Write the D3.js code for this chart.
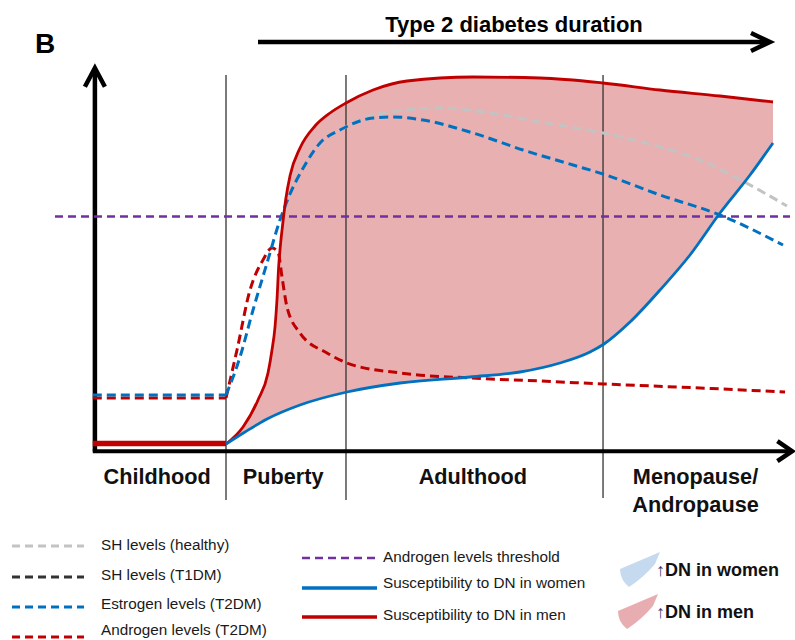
<!DOCTYPE html>
<html lang="en">
<head>
<meta charset="UTF-8">
<title>Type 2 diabetes duration</title>
<script src="https://d3js.org/d3.v7.min.js"></script>
<style>
  body { margin: 0; background: #fff; }
  svg { display: block; font-family: "Liberation Sans", Arial, sans-serif; }
  .stage { font-size: 21.7px; font-weight: bold; fill: #111; }
  .leg { font-size: 15.3px; fill: #1a1a1a; }
  .dn { font-size: 18px; font-weight: bold; fill: #111; }
</style>
</head>
<body>
<div id="chart"></div>
<script>
// life stages along the x axis (x in arbitrary time units 0-100)
const stages = ["Childhood", "Puberty", "Adulthood", "Menopause/|Andropause"];
const stageBounds = [18.43, 35.57, 72.29];
const stageLabelX = [8.6, 26.6, 53.7, 85.5];
const thresholdLevel = 57.4;

// levels, [x, level]
const menCurve = [[18.43,0.5],[20.86,4.75],[23,11.5],[24.43,18.25],[25,24],[25.43,29.75],[25.71,36.5],
  [25.95,44.75],[26.18,49.75],[26.5,55],[26.95,61.5],[27.6,67.75],[29,74.5],[31.14,80],[33.29,83.25],
  [35.57,85.75],[39.43,89],[44.29,91.25],[53.71,92.25],[63.29,92],[72.29,90.75],[80.43,89],[89,87.5],[96.57,86]];
const womenCurve = [[18.43,0.5],[21.14,3.5],[24.29,6.75],[29,10.25],[35.71,13.5],[43.29,15.75],[53.29,17.25],
  [60.43,18.5],[66.14,20.75],[70.43,23.5],[72.43,25.5],[76.14,31],[80.43,39],[84.71,47.75],[89,58.25],
  [93.29,67.75],[96.57,75.75]];
const childhoodMen = [[-0.6,0.6],[18.43,0.6]];
const estrogenChild = [[-0.6,12.75],[18.43,12.75]];
const estrogenCurve = [[18.43,12.75],[20.43,22.25],[22.29,34],[24.29,45.75],[26.14,56.5],[27.57,63],[29.71,70.25],
  [31.86,75.75],[34.71,79],[39.43,82],[42.29,82.25],[46.57,81.5],[53.71,78.25],[60.86,74],[68,70.25],
  [72.29,68],[80.43,62.75],[89,57.75],[98,50.25]];
const androgenChild = [[-0.6,12],[18.43,12]];
const androgenCurve = [[18.43,12],[20,24],[21.86,39],[23.71,46.5],[25,49.5],[25.86,48.5],[26.43,42.25],
  [27.14,34.75],[29,28.25],[32.86,23.25],[35.71,20.75],[43.29,18.25],[53.29,17],[63.29,16.25],[72.43,15.5],
  [86.14,14.5],[98.29,13.5]];
const healthyCurve = [[34.71,79],[39.43,82.75],[41.86,83.5],[49,84.5],[56.14,83.25],[63.29,81],[72.29,78.25],
  [80.43,74.75],[86.14,71.5],[91.43,67],[98.57,60]];

const legendLeft = [
  { label: "SH levels (healthy)", color: "#c3c3c3", dash: "8,5" },
  { label: "SH levels (T1DM)", color: "#333333", dash: "8,5" },
  { label: "Estrogen levels (T2DM)", color: "#0070c0", dash: "8,5" },
  { label: "Androgen levels (T2DM)", color: "#c00000", dash: "8,5" }
];
const legendMid = [
  { label: "Androgen levels threshold", color: "#7030a0", dash: "8,5" },
  { label: "Susceptibility to DN in women", color: "#0070c0", dash: null },
  { label: "Susceptibility to DN in men", color: "#c00000", dash: null }
];
const legendArea = [
  { label: "DN in women", color: "#c6daef" },
  { label: "DN in men", color: "#e8adb0" }
];

const width = 795, height = 640;
const svg = d3.select("#chart").append("svg")
    .attr("width", width)
    .attr("height", height);

const x = d3.scaleLinear().domain([0, 100]).range([97, 797]);
const y = d3.scaleLinear().domain([0, 100]).range([446, 46]);

const smooth = d3.line().x(d => x(d[0])).y(d => y(d[1])).curve(d3.curveMonotoneX);
const straight = d3.line().x(d => x(d[0])).y(d => y(d[1]));

// shaded region between men and women susceptibility
const upper = smooth(menCurve);
const lower = smooth(womenCurve.slice().reverse()).replace(/^M/, "L");
svg.append("path")
    .attr("d", upper + lower + "Z")
    .attr("fill", "#e9b0b1");

// stage separators
svg.selectAll(".sep")
    .data(stageBounds)
    .enter()
    .append("line")
    .attr("class", "sep")
    .attr("x1", d => x(d)).attr("x2", d => x(d))
    .attr("y1", y(92.75))
    .attr("y2", (d, i) => y(i == 2 ? -13 : -13.5))
    .attr("stroke", "#333")
    .attr("stroke-width", 1.3);

// axes
svg.append("line")
    .attr("x1", x(-0.3)).attr("x2", x(-0.3))
    .attr("y1", y(-1.4)).attr("y2", y(93.5))
    .attr("stroke", "#000").attr("stroke-width", 4.5);
svg.append("path")
    .attr("d", `M${x(-0.3) - 10},${y(89.8)} L${x(-0.3)},${y(94.5)} L${x(-0.3) + 10},${y(89.8)}`)
    .attr("fill", "none").attr("stroke", "#000").attr("stroke-width", 4.5);
svg.append("line")
    .attr("x1", x(-0.6)).attr("x2", x(99))
    .attr("y1", y(-1.3)).attr("y2", y(-1.3))
    .attr("stroke", "#000").attr("stroke-width", 4);
svg.append("path")
    .attr("d", `M${x(97.2)},${y(1.2)} L${x(99.3)},${y(-1.3)} L${x(97.2)},${y(-3.8)}`)
    .attr("fill", "none").attr("stroke", "#000").attr("stroke-width", 4.5);

// threshold
svg.append("line")
    .attr("x1", x(-6)).attr("x2", x(99))
    .attr("y1", y(thresholdLevel)).attr("y2", y(thresholdLevel))
    .attr("stroke", "#7030a0").attr("stroke-width", 2.5)
    .attr("stroke-dasharray", "8,5");

// hormone curves
function dashed(d, color, gen) {
    svg.append("path")
        .attr("d", gen(d))
        .attr("fill", "none")
        .attr("stroke", color)
        .attr("stroke-width", 3)
        .attr("stroke-dasharray", "9,5");
}
dashed(healthyCurve, "#c3c3c3", smooth);
dashed(androgenChild, "#c00000", straight);
dashed(androgenCurve, "#c00000", smooth);
dashed(estrogenChild, "#0070c0", straight);
dashed(estrogenCurve, "#0070c0", smooth);

// susceptibility curves
svg.append("path")
    .attr("d", straight(childhoodMen))
    .attr("stroke", "#c00000").attr("stroke-width", 5.5).attr("fill", "none");
svg.append("path")
    .attr("d", smooth(menCurve))
    .attr("stroke", "#c00000").attr("stroke-width", 2.8).attr("fill", "none");
svg.append("path")
    .attr("d", smooth(womenCurve))
    .attr("stroke", "#0070c0").attr("stroke-width", 2.8).attr("fill", "none");

// stage labels
stages.forEach(function(s, i) {
    const t = svg.append("text")
        .attr("class", "stage")
        .attr("text-anchor", "middle")
        .attr("x", x(stageLabelX[i]))
        .attr("y", 484);
    s.split("|").forEach(function(part, j) {
        t.append("tspan").attr("x", x(stageLabelX[i])).attr("dy", j ? 28 : 0).text(part);
    });
});

// panel letter and duration arrow
svg.append("text").attr("x", 35).attr("y", 53)
    .style("font-size", "28px").style("font-weight", "bold").text("B");
svg.append("line")
    .attr("x1", 258).attr("x2", 769).attr("y1", 42).attr("y2", 42)
    .attr("stroke", "#000").attr("stroke-width", 4.5);
svg.append("path")
    .attr("d", "M751,33 L770,42 L751,51")
    .attr("fill", "none").attr("stroke", "#000").attr("stroke-width", 4.5);
svg.append("text")
    .attr("x", 514).attr("y", 32)
    .attr("text-anchor", "middle")
    .style("font-size", "22px").style("font-weight", "bold")
    .text("Type 2 diabetes duration");

// legend
const leftY = [546, 577, 607, 637];
const leftTextY = [550, 580, 609, 635];
legendLeft.forEach(function(d, i) {
    svg.append("line")
        .attr("x1", 12).attr("x2", 84).attr("y1", leftY[i]).attr("y2", leftY[i])
        .attr("stroke", d.color).attr("stroke-width", 3).attr("stroke-dasharray", d.dash);
    svg.append("text").attr("class", "leg").attr("x", 101).attr("y", leftTextY[i]).text(d.label);
});
const midY = [558, 588, 617];
const midTextY = [562, 588, 620];
legendMid.forEach(function(d, i) {
    svg.append("line")
        .attr("x1", 302).attr("x2", 377).attr("y1", midY[i]).attr("y2", midY[i])
        .attr("stroke", d.color).attr("stroke-width", d.dash ? 2.5 : 3.5)
        .attr("stroke-dasharray", d.dash);
    svg.append("text").attr("class", "leg").attr("x", 383).attr("y", midTextY[i]).text(d.label);
});
const blob = "M0,17 L40,0 L35,12 Q23,26 9,35 Q0,28 0,17 Z";
legendArea.forEach(function(d, i) {
    const gy = 552 + i * 42;
    svg.append("path")
        .attr("d", blob)
        .attr("transform", `translate(${620 - i * 2},${gy})`)
        .attr("fill", d.color);
    const t = svg.append("text").attr("class", "dn").attr("x", 656).attr("y", gy + 24);
    t.append("tspan").style("font-weight", "normal").style("fill", "#333366").text("\u2191");
    t.append("tspan").text(d.label);
});
</script>
</body>
</html>
